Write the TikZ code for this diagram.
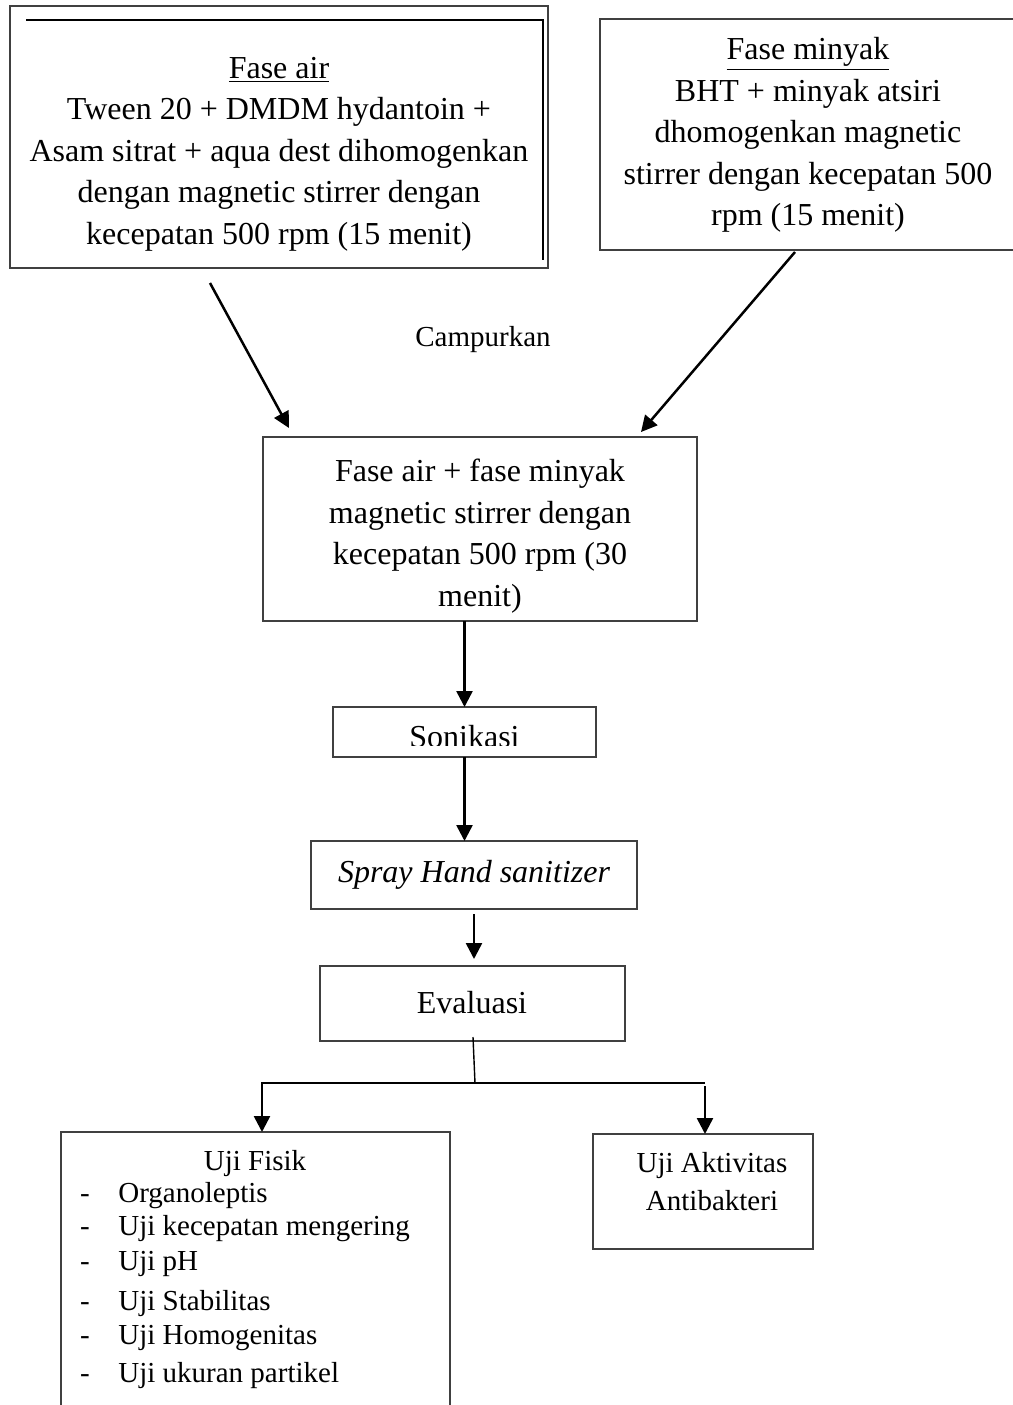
\documentclass[tikz,border=0pt]{standalone}
\usepackage{fontspec}
\setmainfont{Liberation Serif}
\usetikzlibrary{arrows.meta,fit}
\begin{document}
\begin{tikzpicture}[x=0.5pt,y=-0.5pt,
  box/.style={draw=black!75, line width=0.6pt, inner sep=0pt, outer sep=0pt},
  big/.style={font=\fontsize{16}{20.75}\selectfont, align=center, inner sep=0pt},
  small/.style={font=\fontsize{14.5}{19}\selectfont, inner sep=0pt},
  arr/.style={line width=1.25pt, -{Triangle[length=8pt,width=8pt]}},
  thk/.style={line width=1.3pt},
  thn/.style={line width=0.7pt}]
\useasboundingbox (0,0) rectangle (1013,1405);

% Fase air
\node[box, fit={(10,6) (548,268)}] (A) {};
\draw[thk] (26,20) -- (543,20) -- (543,260);
\node[big] (At) at (279,154) {\underline{Fase air}\\Tween 20 + DMDM hydantoin +\\Asam sitrat + aqua dest dihomogenkan\\dengan magnetic stirrer dengan\\kecepatan 500 rpm (15 menit)};

% Fase minyak
\node[box, fit={(600,19) (1020,250)}] (B) {};
\node[big] (Bt) at (808,135) {\underline{Fase minyak}\\BHT + minyak atsiri\\dhomogenkan magnetic\\stirrer dengan kecepatan 500\\rpm (15 menit)};

\node[small] (camp) at (483,340) {Campurkan};

% Campuran
\node[box, fit={(263,437) (697,621)}] (C) {};
\node[big] (Ct) at (480,536) {Fase air + fase minyak\\magnetic stirrer dengan\\kecepatan 500 rpm (30\\menit)};

% Sonikasi
\node[box, fit={(333,707) (596,757)}] (D) {};
\begin{scope}
  \clip (333,707) rectangle (596,745.5);
  \node[big, anchor=base] (Dt) at (464.5,747.5) {Sonikasi};
\end{scope}

% Spray
\node[box, fit={(311,841) (637,909)}] (E) {};
\node[big] (Et) at (474,875) {\itshape Spray Hand sanitizer};

% Evaluasi
\node[box, fit={(320,966) (625,1041)}] (F) {};
\node[big] (Ft) at (472,1003) {Evaluasi};

% Uji Fisik
\node[box, fit={(61,1132) (450,1420)}] (G) {};
\node[small, anchor=base] (Gt) at (255,1170) {Uji Fisik};
\foreach \yy/\tt [count=\i] in {1202/Organoleptis, 1235/Uji kecepatan mengering, 1270/Uji pH, 1310/Uji Stabilitas, 1344/Uji Homogenitas, 1382/Uji ukuran partikel}{
  \node[small, anchor=base] (gd\i) at (85,\yy) {-};
  \node[small, anchor=base west] (gi\i) at (118,\yy) {\tt};
}

% Uji Aktivitas
\node[box, fit={(593,1134) (813,1249)}] (H) {};
\node[small, align=center] (Ht) at (712,1182) {Uji Aktivitas\\Antibakteri};

% connectors
\coordinate (a1) at (210,283);
\coordinate (c1) at (289,428);
\coordinate (b1) at (795,252);
\coordinate (c2) at (641,432);
\draw[arr] (a1) -- (c1);
\draw[arr] (b1) -- (c2);
\draw[arr] (C.south -| D.north) -- (D.north);
\draw[arr] (D.south) -- (D.south |- E.north);
\draw[arr] ([yshift=-2.5pt]E.south) -- ([yshift=3.5pt]E.south |- F.north);

\coordinate (fOut) at (473,1037);
\coordinate (jM) at (475,1083);
\coordinate (jL) at (262,1083);
\coordinate (jR) at (705,1083);
\draw[thn] (fOut) -- (jM);
\draw[thn] (jL) -- (jR);
\draw[arr] ([yshift=0.5pt]jL) -- (jL |- G.north);
\draw[arr] ([yshift=-1.5pt]jR) -- (jR |- H.north);
\end{tikzpicture}
\end{document}
